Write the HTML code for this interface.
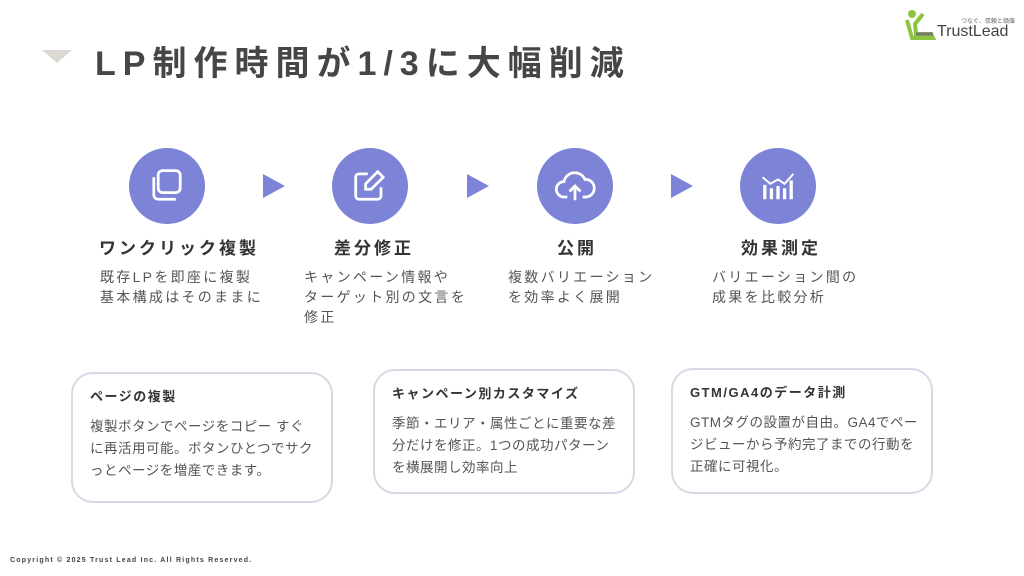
<!DOCTYPE html>
<html><head><meta charset="utf-8"><style>
*{margin:0;padding:0;box-sizing:border-box}
body{width:1024px;height:576px;background:#fff;position:relative;overflow:hidden;font-family:"Liberation Sans","Noto Sans CJK JP",sans-serif;color:#444}
.a{position:absolute}
.title{left:95px;top:36px;font-size:34px;font-weight:bold;letter-spacing:7px;color:#464646;white-space:nowrap}
.circ{width:76px;height:76px;border-radius:50%;background:#7d83d6;top:148px}
.circ svg{position:absolute;left:16px;top:16px}
.arr{width:0;height:0;border-top:12px solid transparent;border-bottom:12px solid transparent;border-left:22px solid #7d83d6;top:174px}
.h{top:234px;font-size:17px;font-weight:bold;letter-spacing:3px;color:#333;white-space:nowrap;text-align:center;width:200px}
.d{top:267px;font-size:14px;line-height:20px;letter-spacing:2.3px;color:#555;white-space:nowrap}
.box{border:2px solid #d8d9e6;border-radius:22px;background:#fff}
.bt{font-size:13px;font-weight:bold;letter-spacing:1.5px;color:#333;position:absolute;left:17px;top:12px;white-space:nowrap}
.bb{font-size:13.5px;line-height:22px;letter-spacing:0.5px;color:#555;position:absolute;left:17px;top:42px;white-space:nowrap}
</style></head><body>
<div class="a" style="left:42px;top:50px;width:0;height:0;border-left:15px solid transparent;border-right:15px solid transparent;border-top:13px solid #dcd9d2"></div>
<div class="a title">LP制作時間が1/3に大幅削減</div>
<div class="a" style="left:903px;top:8px;width:115px;height:36px">
<svg width="34" height="34" viewBox="0 0 34 34"><circle cx="9" cy="6" r="4" fill="#8cc63f"/><path d="M4 12 L9 30 L30 30 L28 26 L13 26 L12 16 L20 6" stroke="#8cc63f" stroke-width="4" fill="none"/><path d="M13 26 L30 26" stroke="#777" stroke-width="3"/></svg>
<div class="a" style="left:58px;top:8px;font-size:6px;color:#666;white-space:nowrap">つなぐ、信頼と価値</div>
<div class="a" style="left:34px;top:15px;font-size:16px;color:#444;white-space:nowrap">TrustLead</div>
</div>

<div class="a circ" style="left:129px"><svg width="44" height="44" viewBox="0 0 40 40" fill="none" stroke="#fff" stroke-width="2.5"><rect x="12" y="6" width="20" height="20" rx="4"/><path d="M8 12v16a4 4 0 0 0 4 4h16"/></svg></div>
<div class="a circ" style="left:332px"><svg width="44" height="44" viewBox="0 0 40 40" fill="none" stroke="#fff" stroke-width="2.5"><path d="M18 9H10a3 3 0 0 0-3 3v17a3 3 0 0 0 3 3h17a3 3 0 0 0 3-3v-8"/><path d="M27 7l5 5-11 11h-5v-5z"/></svg></div>
<div class="a circ" style="left:537px"><svg width="44" height="44" viewBox="0 0 40 40" fill="none" stroke="#fff" stroke-width="2.5"><path d="M13 30H10a7 7 0 0 1 0-14 10 10 0 0 1 19-2 8 8 0 0 1 1 16h-3"/><path d="M20 33V20M15 25l5-5 5 5"/></svg></div>
<div class="a circ" style="left:740px"><svg width="44" height="44" viewBox="0 0 40 40" fill="none" stroke="#fff" stroke-width="3"><path d="M8 19v13M14 22v10M20 20v12M26 22v10M32 15v17" /><path d="M6 12l7 6 7-4 6 4 8-9" stroke-width="1.8"/></svg></div>
<div class="a arr" style="left:263px"></div>
<div class="a arr" style="left:467px"></div>
<div class="a arr" style="left:671px"></div>

<div class="a h" style="left:79px">ワンクリック複製</div>
<div class="a h" style="left:274px">差分修正</div>
<div class="a h" style="left:477px">公開</div>
<div class="a h" style="left:681px">効果測定</div>
<div class="a d" style="left:100px">既存LPを即座に複製<br>基本構成はそのままに</div>
<div class="a d" style="left:304px">キャンペーン情報や<br>ターゲット別の文言を<br>修正</div>
<div class="a d" style="left:508px">複数バリエーション<br>を効率よく展開</div>
<div class="a d" style="left:712px">バリエーション間の<br>成果を比較分析</div>

<div class="a box" style="left:71px;top:372px;width:262px;height:131px"><div class="bt">ページの複製</div><div class="bb">複製ボタンでページをコピー すぐ<br>に再活用可能。ボタンひとつでサク<br>っとページを増産できます。</div></div>
<div class="a box" style="left:373px;top:369px;width:262px;height:125px"><div class="bt">キャンペーン別カスタマイズ</div><div class="bb">季節・エリア・属性ごとに重要な差<br>分だけを修正。1つの成功パターン<br>を横展開し効率向上</div></div>
<div class="a box" style="left:671px;top:368px;width:262px;height:126px"><div class="bt">GTM/GA4のデータ計測</div><div class="bb">GTMタグの設置が自由。GA4でペー<br>ジビューから予約完了までの行動を<br>正確に可視化。</div></div>

<div class="a" style="left:10px;top:557px;font-size:7px;font-weight:bold;letter-spacing:1.2px;color:#444;white-space:nowrap">Copyright © 2025 Trust Lead Inc. All Rights Reserved.</div>
</body></html>
